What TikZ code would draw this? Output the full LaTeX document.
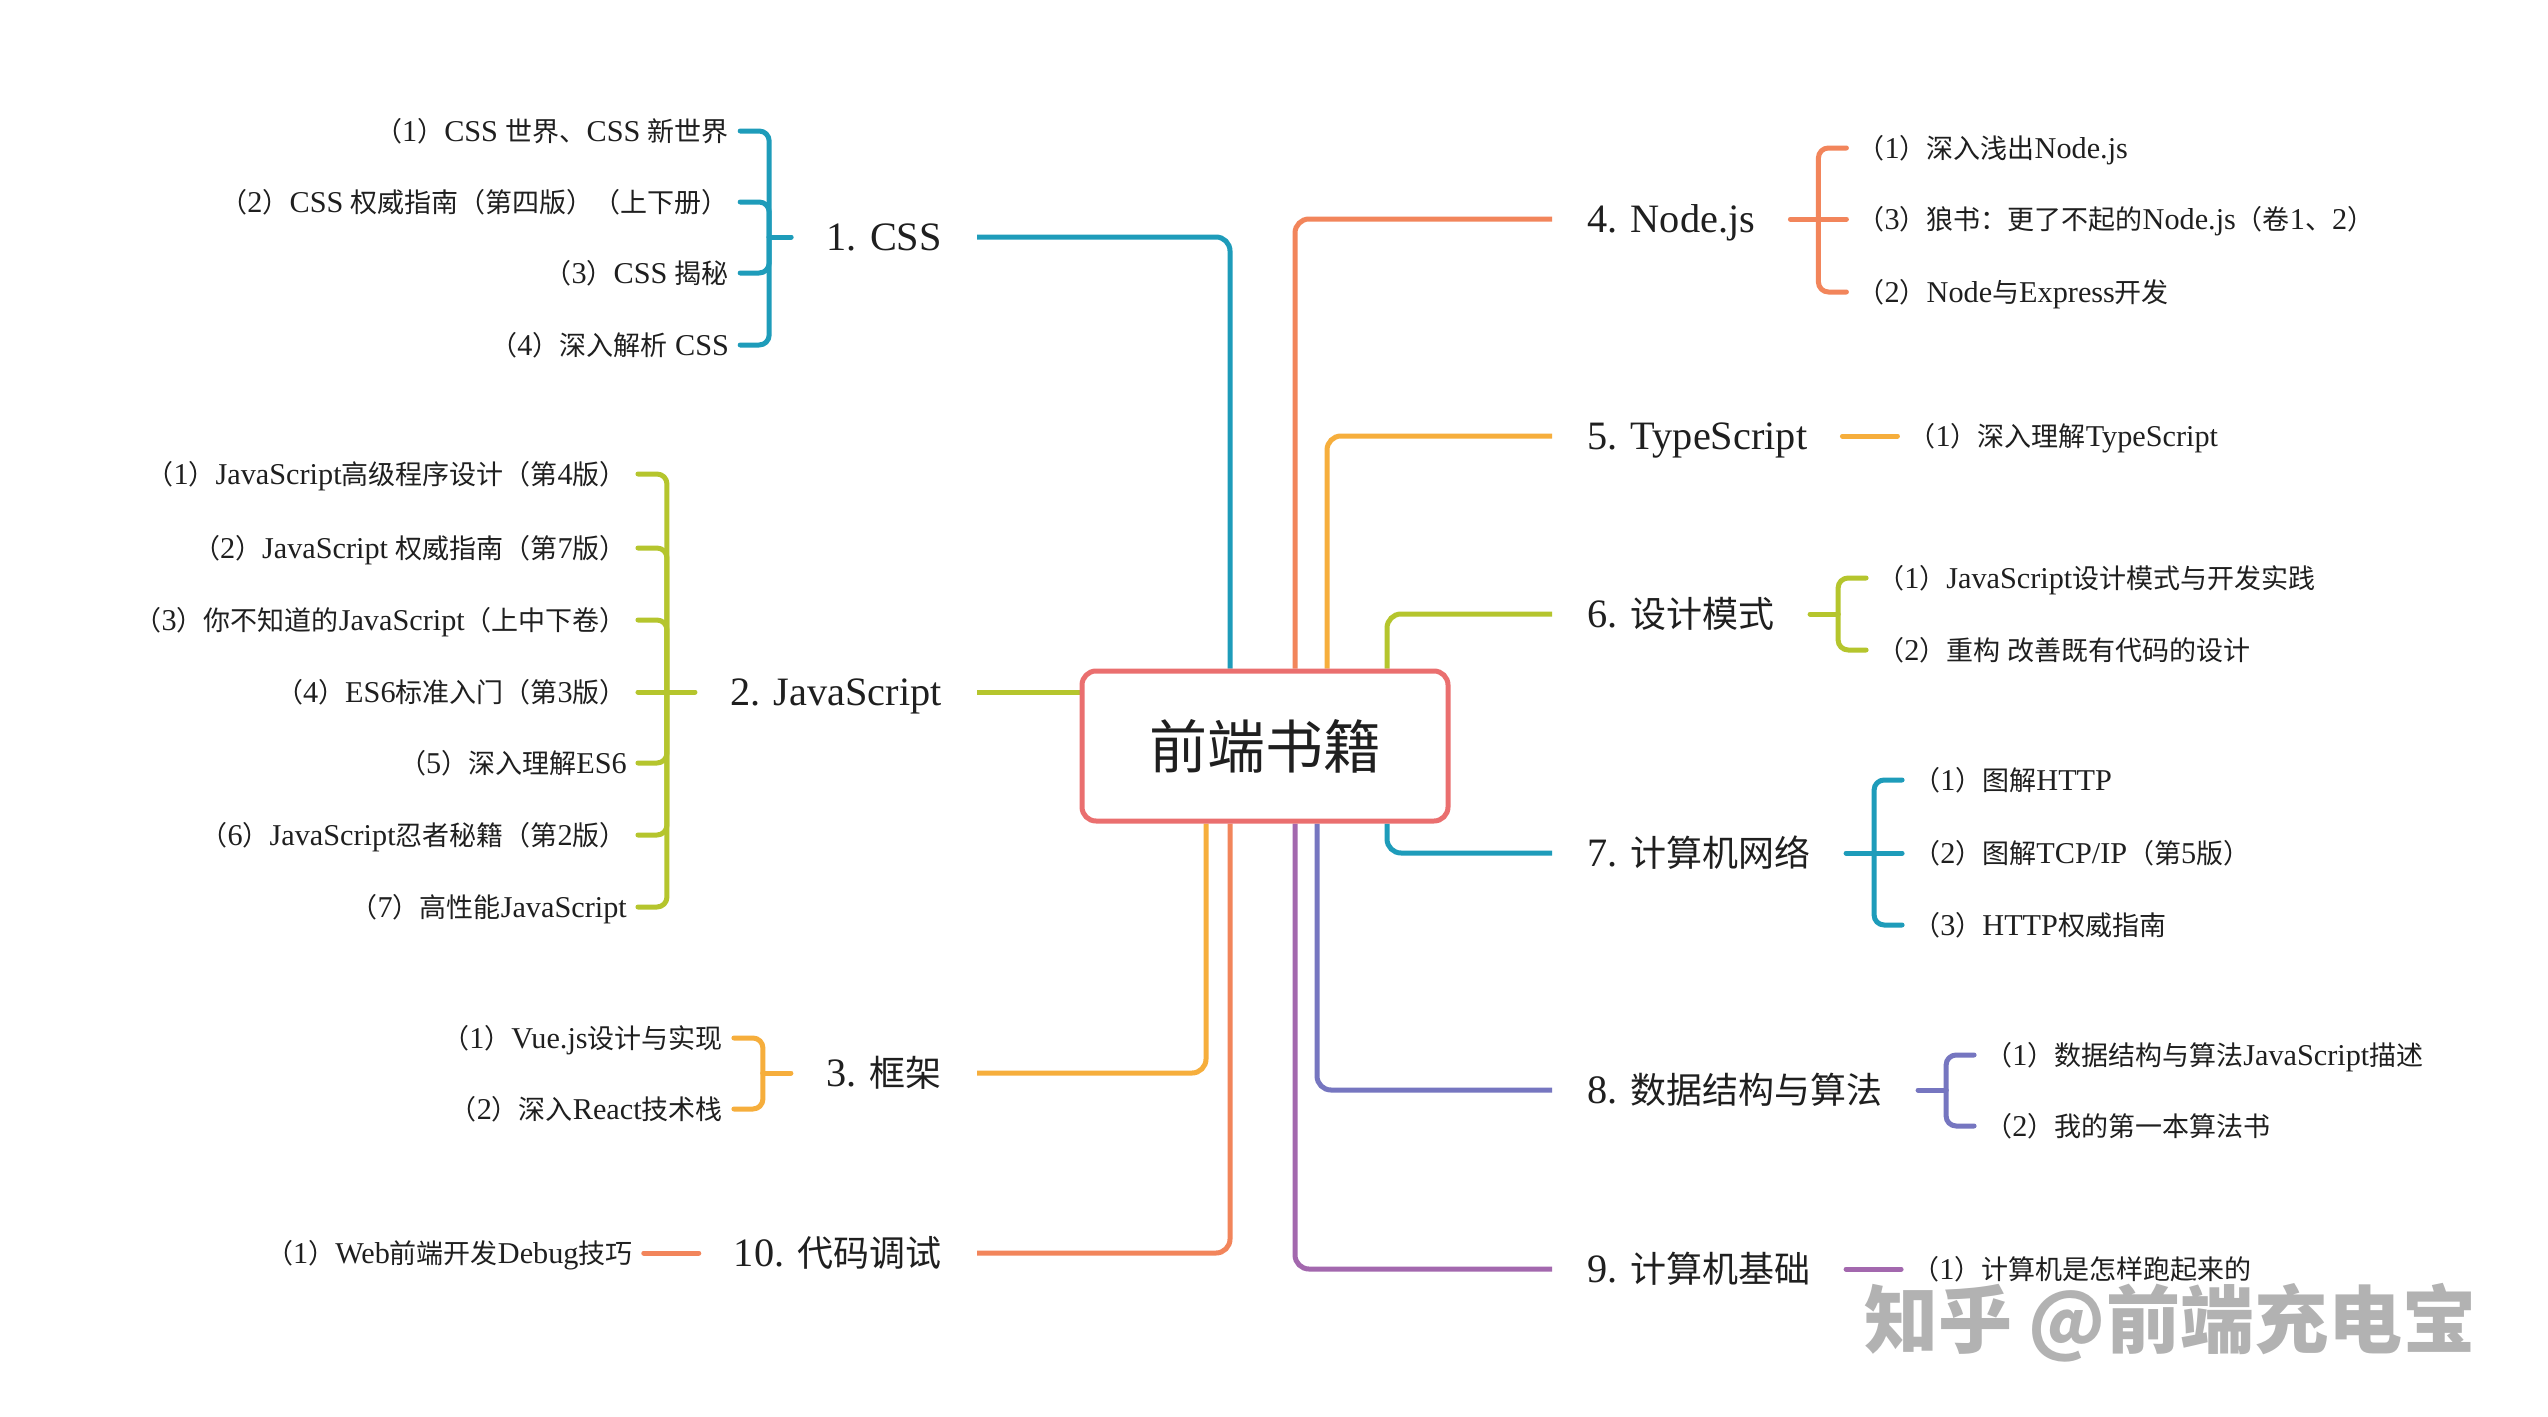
\documentclass[tikz,border=0pt]{standalone}
\usepackage{fontspec}
\setmainfont{Liberation Serif}[Scale=1.12]
\newfontfamily\cjk{Noto Sans CJK SC}
\XeTeXinterchartokenstate=1
\newXeTeXintercharclass\CJKcls
\newcount\cjkc
\cjkc="2E80
\loop
  \XeTeXcharclass\cjkc=\CJKcls
  \ifnum\cjkc<"9FFF \advance\cjkc by 1
\repeat
\cjkc="FF00
\loop
  \XeTeXcharclass\cjkc=\CJKcls
  \ifnum\cjkc<"FFEF \advance\cjkc by 1
\repeat
\XeTeXinterchartoks 0 \CJKcls = {\cjk}
\XeTeXinterchartoks 4095 \CJKcls = {\cjk}
\XeTeXinterchartoks \CJKcls 0 = {\rmfamily}
\XeTeXinterchartoks \CJKcls 4095 = {\rmfamily}
\newcommand\wmfont{\XeTeXinterchartokenstate=0\relax\cjk\bfseries\fontsize{74}{74}\selectfont}
\usetikzlibrary{calc}
\definecolor{cteal}{HTML}{1E9CBA}
\definecolor{cgreen}{HTML}{B5C52D}
\definecolor{corange}{HTML}{F6AE3C}
\definecolor{csalmon}{HTML}{F2855B}
\definecolor{cblue}{HTML}{7676C0}
\definecolor{cpurple}{HTML}{A368AE}
\definecolor{cborder}{HTML}{EA6F6F}
\definecolor{ink}{HTML}{1F1F1F}
\definecolor{wm}{HTML}{B2B2B2}
\pgfdeclarelayer{bg}
\pgfsetlayers{bg,main}
\begin{document}
\begin{tikzpicture}[x=1pt,y=-1pt,line cap=round,line join=round,
  lone/.style={inner xsep=35pt,inner ysep=0pt,text height=34.6pt,text depth=7.2pt,
    font=\fontsize{36}{40}\selectfont,text=ink},
  item/.style={inner xsep=11pt,inner ysep=0pt,text height=26pt,text depth=5.4pt,
    font=\fontsize{27}{30}\selectfont,text=ink},
  branch/.style={line width=5pt,rounded corners=14pt},
  brk/.style={line width=5pt,rounded corners=10pt}]
\begin{pgfonlayer}{bg}
\fill[white] (0,0) rectangle (2548,1416);
\end{pgfonlayer}
\useasboundingbox (0,0) rectangle (2548,1416);

% root
\node[draw=cborder,line width=5pt,fill=white,rounded corners=14pt,
  minimum width=366pt,minimum height=150pt,inner sep=0pt,
  text height=55.7pt,text depth=11.6pt,text=ink,
  font=\cjk\fontsize{58}{60}\selectfont] (root) at (1265,746) {前端书籍};

% ---------- left side ----------
\node[lone,anchor=east] (n1) at (977,237) {1. CSS};
\node[lone,anchor=east] (n2) at (977,692) {2. JavaScript};
\node[lone,anchor=east] (n3) at (977,1073) {3. 框架};
\node[lone,anchor=east] (n10) at (977,1253) {10. 代码调试};
% ---------- right side ----------
\node[lone,anchor=west] (n4) at (1552,219) {4. Node.js};
\node[lone,anchor=west] (n5) at (1552,436) {5. TypeScript};
\node[lone,anchor=west] (n6) at (1552,614) {6. 设计模式};
\node[lone,anchor=west] (n7) at (1552,853) {7. 计算机网络};
\node[lone,anchor=west] (n8) at (1552,1090) {8. 数据结构与算法};
\node[lone,anchor=west] (n9) at (1552,1269) {9. 计算机基础};

\begin{pgfonlayer}{bg}
\draw[branch,cteal] (n1.east) -| ([xshift=-35pt]root.north);
\draw[branch,cgreen] (n2.east) -- (n2.east -| root.west);
\draw[branch,corange] (n3.east) -| ([xshift=-59pt]root.south);
\draw[branch,csalmon] (n10.east) -| ([xshift=-35pt]root.south);
\draw[branch,csalmon] (n4.west) -| ([xshift=30pt]root.north);
\draw[branch,corange] (n5.west) -| ([xshift=62pt]root.north);
\draw[branch,cgreen] (n6.west) -| ([xshift=122pt]root.north);
\draw[branch,cteal] (n7.west) -| ([xshift=122pt]root.south);
\draw[branch,cblue] (n8.west) -| ([xshift=52pt]root.south);
\draw[branch,cpurple] (n9.west) -| ([xshift=30pt]root.south);
\end{pgfonlayer}

% 1. CSS
\coordinate (j1) at ([xshift=-22pt]n1.west);
\node[item,anchor=east,xshift=-29pt] (i11) at (j1 |- 0,131) {（1）CSS 世界、CSS 新世界};
\node[item,anchor=east,xshift=-29pt] (i12) at (j1 |- 0,202) {（2）CSS 权威指南（第四版）（上下册）};
\node[item,anchor=east,xshift=-29pt] (i13) at (j1 |- 0,273) {（3）CSS 揭秘};
\node[item,anchor=east,xshift=-29pt] (i14) at (j1 |- 0,345) {（4）深入解析 CSS};
\draw[brk,cteal] (j1) -- (n1.west);
\foreach \k in {i11,i12,i13,i14} \draw[brk,cteal] (j1) |- (\k.east);

% 2. JavaScript
\coordinate (j2) at ([xshift=-28pt]n2.west);
\node[item,anchor=east,xshift=-29pt] (i21) at (j2 |- 0,474) {（1）JavaScript高级程序设计（第4版）};
\node[item,anchor=east,xshift=-29pt] (i22) at (j2 |- 0,548) {（2）JavaScript 权威指南（第7版）};
\node[item,anchor=east,xshift=-29pt] (i23) at (j2 |- 0,620) {（3）你不知道的JavaScript（上中下卷）};
\node[item,anchor=east,xshift=-29pt] (i24) at (j2 |- 0,692) {（4）ES6标准入门（第3版）};
\node[item,anchor=east,xshift=-29pt] (i25) at (j2 |- 0,763) {（5）深入理解ES6};
\node[item,anchor=east,xshift=-29pt] (i26) at (j2 |- 0,835) {（6）JavaScript忍者秘籍（第2版）};
\node[item,anchor=east,xshift=-29pt] (i27) at (j2 |- 0,907) {（7）高性能JavaScript};
\draw[brk,cgreen] (j2) -- (n2.west);
\foreach \k in {i21,i22,i23,i25,i26,i27} \draw[brk,cgreen] (j2) |- (\k.east);
\draw[brk,cgreen] (j2) -- (i24.east);

% 3. 框架
\coordinate (j3) at ([xshift=-28pt]n3.west);
\node[item,anchor=east,xshift=-29pt] (i31) at (j3 |- 0,1038) {（1）Vue.js设计与实现};
\node[item,anchor=east,xshift=-29pt] (i32) at (j3 |- 0,1109) {（2）深入React技术栈};
\draw[brk,corange] (j3) -- (n3.west);
\foreach \k in {i31,i32} \draw[brk,corange] (j3) |- (\k.east);

% 10. 代码调试
\node[item,anchor=east,xshift=-55pt] (i101) at (n10.west) {（1）Web前端开发Debug技巧};
\draw[brk,csalmon] (n10.west) -- (i101.east);

% 4. Node.js
\coordinate (j4) at ([xshift=28pt]n4.east);
\node[item,anchor=west,xshift=28pt] (i41) at (j4 |- 0,148) {（1）深入浅出Node.js};
\node[item,anchor=west,xshift=28pt] (i42) at (j4 |- 0,219) {（3）狼书：更了不起的Node.js（卷1、2）};
\node[item,anchor=west,xshift=28pt] (i43) at (j4 |- 0,292) {（2）Node与Express开发};
\draw[brk,csalmon] (j4) -- (n4.east);
\foreach \k in {i41,i43} \draw[brk,csalmon] (j4) |- (\k.west);
\draw[brk,csalmon] (j4) -- (i42.west);

% 5. TypeScript
\node[item,anchor=west,xshift=55pt] (i51) at (n5.east) {（1）深入理解TypeScript};
\draw[brk,corange] (n5.east) -- (i51.west);

% 6. 设计模式
\coordinate (j6) at ([xshift=28pt]n6.east);
\node[item,anchor=west,xshift=28pt] (i61) at (j6 |- 0,578) {（1）JavaScript设计模式与开发实践};
\node[item,anchor=west,xshift=28pt] (i62) at (j6 |- 0,650) {（2）重构 改善既有代码的设计};
\draw[brk,cgreen] (j6) -- (n6.east);
\foreach \k in {i61,i62} \draw[brk,cgreen] (j6) |- (\k.west);

% 7. 计算机网络
\coordinate (j7) at ([xshift=28pt]n7.east);
\node[item,anchor=west,xshift=28pt] (i71) at (j7 |- 0,780) {（1）图解HTTP};
\node[item,anchor=west,xshift=28pt] (i72) at (j7 |- 0,853) {（2）图解TCP/IP（第5版）};
\node[item,anchor=west,xshift=28pt] (i73) at (j7 |- 0,925) {（3）HTTP权威指南};
\draw[brk,cteal] (j7) -- (n7.east);
\foreach \k in {i71,i73} \draw[brk,cteal] (j7) |- (\k.west);
\draw[brk,cteal] (j7) -- (i72.west);

% 8. 数据结构与算法
\coordinate (j8) at ([xshift=28pt]n8.east);
\node[item,anchor=west,xshift=28pt] (i81) at (j8 |- 0,1055) {（1）数据结构与算法JavaScript描述};
\node[item,anchor=west,xshift=28pt] (i82) at (j8 |- 0,1126) {（2）我的第一本算法书};
\draw[brk,cblue] (j8) -- (n8.east);
\foreach \k in {i81,i82} \draw[brk,cblue] (j8) |- (\k.west);

% 9. 计算机基础
\node[item,anchor=west,xshift=55pt] (i91) at (n9.east) {（1）计算机是怎样跑起来的};
\draw[brk,cpurple] (n9.east) -- (i91.west);

% watermark
\node[text=white,font=\wmfont,inner sep=0pt] (wms) at (2165,1318) {知乎 @前端充电宝};
\node[text=wm,font=\wmfont,inner sep=0pt] (wmk) at (2170,1323) {知乎 @前端充电宝};
\end{tikzpicture}
\end{document}
